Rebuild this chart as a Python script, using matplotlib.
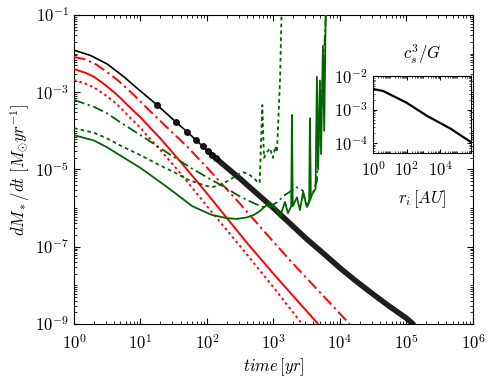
import matplotlib
matplotlib.use('Agg')
import matplotlib.pyplot as plt
import numpy as np
from matplotlib.ticker import LogLocator, FuncFormatter, NullFormatter, FixedLocator

plt.rcParams['mathtext.fontset'] = 'cm'
plt.rcParams['font.family'] = ['DejaVu Serif']

# accretion rate curves: time [yr] and log10(dM/dt [Msun/yr])
black_t = [1, 1.78, 3.16, 5.62, 10, 17.8, 31.6, 56, 100, 178, 316, 562, 1000, 1780, 3160,
           5620, 10000, 17800, 31600, 56200, 100000, 126000]
black_log = [-1.91, -2.05, -2.27, -2.60, -2.97, -3.33, -3.72, -4.10, -4.50, -4.88, -5.24, -5.62,
             -6.00, -6.40, -6.80, -7.17, -7.55, -7.90, -8.23, -8.55, -8.85, -9.0]
marker_t = [17.7, 34, 50, 68, 87, 103, 120, 137]
marker_log = [-3.33, -3.77, -4.03, -4.24, -4.40, -4.52, -4.62, -4.71]

red1_t = [1, 1.5, 2.2, 3.1, 4.5, 6.5, 9, 12.5, 20, 50, 100, 300, 700, 1770, 14000]
red1_log = [-2.09, -2.15, -2.29, -2.47, -2.68, -2.93, -3.16, -3.41, -3.75, -4.40, -4.95, -5.85,
            -6.57, -7.35, -9.0]
red2_t = [1, 1.5, 2, 3, 4, 5, 7, 10, 14, 20, 40, 100, 400, 1000, 4700]
red2_log = [-2.40, -2.50, -2.60, -2.82, -3.00, -3.15, -3.40, -3.65, -3.92, -4.20, -4.80, -5.62,
            -6.90, -7.70, -9.0]
red3_t = [1, 1.5, 2, 3, 4, 5, 7, 10, 14, 20, 40, 100, 400, 1000, 2700]
red3_log = [-2.68, -2.78, -2.88, -3.08, -3.25, -3.40, -3.66, -3.92, -4.21, -4.50, -5.10, -5.95,
            -7.20, -8.05, -9.0]

green1_t = [1, 2, 3.1, 5, 10, 20, 32, 60, 120, 200, 280, 400, 500, 600, 700, 886, 1130, 1253,
            1490, 1652, 1850, 1897, 1950, 2255, 2502, 2778, 3190, 3450, 3539, 3650, 3927, 4300,
            4508, 4700, 5003, 5200, 5550, 5800, 6100]
green1_log = [-4.11, -4.25, -4.42, -4.64, -4.96, -5.33, -5.59, -5.95, -6.18, -6.26, -6.28, -6.24,
              -6.18, -6.10, -6.0, -5.85, -6.05, -6.23, -5.84, -6.13, -5.95, -3.59, -5.95, -5.72,
              -6.05, -5.61, -5.97, -5.8, -3.67, -5.7, -5.61, -5.5, -2.6, -5.0, -2.7, -4.6, -1.8,
              -4.0, -1.0]
green2_t = [1, 2, 3.1, 5, 10, 20, 32, 60, 100, 180, 300, 400, 550, 700, 900, 1130, 1490, 2255,
            2778, 3190, 3539, 3927, 4508, 5003, 5550, 6157]
green2_log = [-3.20, -3.38, -3.54, -3.78, -4.11, -4.45, -4.68, -4.98, -5.20, -5.45, -5.68, -5.79,
              -5.90, -5.97, -5.95, -5.85, -5.66, -5.46, -5.55, -5.97, -5.8, -5.6, -5.3, -3.5,
              -2.6, -1.0]
green3_t = [1, 2, 3.1, 5, 10, 20, 32, 50, 71, 100, 123, 160, 220, 290, 350, 420, 490, 560, 620,
            680, 720, 800, 886, 983, 1070, 1130, 1200, 1260, 1320]
green3_log = [-3.93, -4.05, -4.19, -4.38, -4.63, -4.90, -5.07, -5.25, -5.35, -5.43, -5.45, -5.40,
              -5.27, -5.13, -5.07, -5.12, -5.2, -5.3, -5.35, -3.33, -4.7, -4.55, -4.45, -4.7,
              -4.4, -4.55, -3.5, -2.6, -1.0]

# inset: c_s^3/G vs r_i [AU]
inset_r = [1, 4, 16, 100, 1600, 40000, 700000]
inset_log = [-2.38, -2.44, -2.59, -2.79, -3.18, -3.56, -3.97]


def p(a):
    return 10.0 ** np.array(a)


def exp_fmt(v, pos):
    return r'$10^{%d}$' % int(round(np.log10(v)))


fig = plt.figure(figsize=(4.98, 3.82), dpi=100)
ax = fig.add_axes([0.1486, 0.1518, 0.801, 0.809])

bt = np.array(black_t)
ax.plot(bt, p(black_log), color='black', lw=1.2, zorder=2)
band = bt >= 130
ax.plot(np.r_[137, bt[band]], np.r_[p(-4.71), p(black_log)[band]], color='#1e1e1e', lw=4.0,
        solid_capstyle='round', zorder=2)
ax.plot(marker_t, p(marker_log), 'o', color='#1a1a1a', mec='black', ms=3.9, zorder=3)

ax.plot(red1_t, p(red1_log), color='red', lw=1.4, dashes=[6, 2, 1.2, 2], zorder=3)
ax.plot(red2_t, p(red2_log), color='red', lw=1.4, zorder=3)
ax.plot(red3_t, p(red3_log), color='red', lw=1.4, dashes=[1.3, 1.6], zorder=3)

green = '#006400'
ax.plot(green1_t, p(green1_log), color=green, lw=1.3, zorder=4)
ax.plot(green2_t, p(green2_log), color=green, lw=1.3, dashes=[6, 2, 1.2, 2], zorder=4)
ax.plot(green3_t, p(green3_log), color=green, lw=1.3, dashes=[2, 1.8], zorder=4)

ax.set_xscale('log')
ax.set_yscale('log')
ax.set_xlim(1, 1e6)
ax.set_ylim(1e-9, 1e-1)
ax.xaxis.set_major_locator(LogLocator(base=10, numticks=20))
ax.xaxis.set_minor_locator(LogLocator(base=10, subs=np.arange(2, 10), numticks=100))
ax.yaxis.set_major_locator(FixedLocator([1e-9, 1e-7, 1e-5, 1e-3, 1e-1]))
ax.yaxis.set_minor_locator(LogLocator(base=10, subs=np.arange(1, 10), numticks=100))
ax.xaxis.set_major_formatter(FuncFormatter(exp_fmt))
ax.yaxis.set_major_formatter(FuncFormatter(exp_fmt))
ax.xaxis.set_minor_formatter(NullFormatter())
ax.yaxis.set_minor_formatter(NullFormatter())
ax.tick_params(which='both', direction='in', top=True, right=True, labelsize=12)
ax.tick_params(which='major', length=4.5, width=0.8)
ax.tick_params(which='minor', length=2.2, width=0.6)
ax.tick_params(axis='x', pad=7)
ax.set_xlabel(r'$time\,[yr]$', fontsize=12, labelpad=2)
ax.set_ylabel(r'$dM_*/dt\ [M_{\odot}yr^{-1}]$', fontsize=12, labelpad=2)

ins = fig.add_axes([0.749, 0.5995, 0.197, 0.2016])
ins.plot(inset_r, p(inset_log), color='black', lw=1.6)
ins.set_xscale('log')
ins.set_yscale('log')
ins.set_xlim(1, 7e5)
ins.set_ylim(5.1e-5, 1.02e-2)
ins.xaxis.set_major_locator(FixedLocator([1, 1e2, 1e4]))
ins.xaxis.set_minor_locator(LogLocator(base=10, subs=np.arange(1, 10), numticks=100))
ins.yaxis.set_major_locator(FixedLocator([1e-4, 1e-3, 1e-2]))
ins.yaxis.set_minor_locator(LogLocator(base=10, subs=np.arange(2, 10), numticks=100))
ins.xaxis.set_major_formatter(FuncFormatter(exp_fmt))
ins.yaxis.set_major_formatter(FuncFormatter(exp_fmt))
ins.xaxis.set_minor_formatter(NullFormatter())
ins.yaxis.set_minor_formatter(NullFormatter())
ins.tick_params(which='both', direction='in', top=True, right=True, labelsize=12)
ins.tick_params(which='major', length=3, width=0.7)
ins.tick_params(which='minor', length=1.6, width=0.5)
ins.tick_params(axis='x', pad=6)
ins.set_title(r'$c_s^3/G$', fontsize=12, pad=12)
ins.set_xlabel(r'$r_i\,[AU]$', fontsize=12, labelpad=6)

fig.savefig('out.png', dpi=100)
